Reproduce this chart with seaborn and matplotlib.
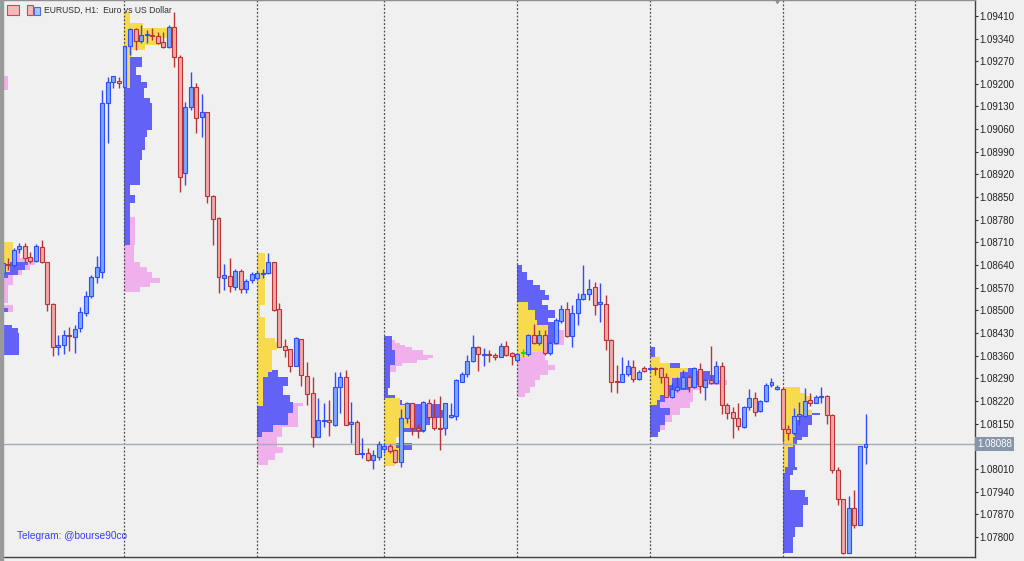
import numpy as np
import pandas as pd
import matplotlib
matplotlib.use("Agg")
import matplotlib.pyplot as plt
from matplotlib.patches import Rectangle
from matplotlib.ticker import FuncFormatter
import seaborn as sns

sns.set_style("white")
plt.rcParams['font.family'] = ['Liberation Sans', 'DejaVu Sans']

# EURUSD H1 candles, bar index -22 .. 134 (bar 0 = first visible day start)
bar_idx = list(range(-22, 135))
opens = [1.08615, 1.08643, 1.08640, 1.08690, 1.08699, 1.08665, 1.08653, 1.08696, 1.08649, 1.08520,
         1.08387, 1.08393, 1.08424, 1.08418, 1.08445, 1.08492, 1.08544, 1.08603, 1.08619, 1.09141,
         1.09206, 1.09209, 1.09190, 1.09317, 1.09369, 1.09332, 1.09351, 1.09351, 1.09348, 1.09329,
         1.09314, 1.09376, 1.09283, 1.08924, 1.09128, 1.09190, 1.09097, 1.09113, 1.08853, 1.08785,
         1.08600, 1.08606, 1.08572, 1.08622, 1.08566, 1.08594, 1.08600, 1.08612, 1.08615, 1.08649,
         1.08504, 1.08390, 1.08381, 1.08328, 1.08411, 1.08297, 1.08245, 1.08109, 1.08158, 1.08161,
         1.08146, 1.08263, 1.08294, 1.08149, 1.08155, 1.08056, 1.08059, 1.08038, 1.08047, 1.08072,
         1.08081, 1.08069, 1.08031, 1.08167, 1.08214, 1.08137, 1.08130, 1.08214, 1.08170, 1.08137,
         1.08137, 1.08170, 1.08174, 1.08279, 1.08303, 1.08344, 1.08387, 1.08362, 1.08365, 1.08362,
         1.08356, 1.08390, 1.08368, 1.08347, 1.08368, 1.08365, 1.08424, 1.08399, 1.08424, 1.08368,
         1.08399, 1.08467, 1.08504, 1.08421, 1.08492, 1.08535, 1.08551, 1.08572, 1.08520, 1.08520,
         1.08408, 1.08282, 1.08279, 1.08303, 1.08325, 1.08289, 1.08322, 1.08319, 1.08322, 1.08322,
         1.08294, 1.08232, 1.08254, 1.08260, 1.08294, 1.08263, 1.08319, 1.08263, 1.08285, 1.08276,
         1.08328, 1.08208, 1.08186, 1.08167, 1.08140, 1.08201, 1.08229, 1.08189, 1.08220, 1.08269,
         1.08257, 1.08257, 1.08133, 1.08121, 1.08174, 1.08174, 1.08223, 1.08214, 1.08232, 1.08235,
         1.08177, 1.08007, 1.07917, 1.07750, 1.07889, 1.07837, 1.08078]
highs = [1.08656, 1.08662, 1.08693, 1.08708, 1.08708, 1.08680, 1.08705, 1.08717, 1.08649, 1.08523,
         1.08424, 1.08439, 1.08449, 1.08455, 1.08510, 1.08560, 1.08609, 1.08668, 1.09181, 1.09221,
         1.09224, 1.09221, 1.09317, 1.09372, 1.09372, 1.09382, 1.09366, 1.09372, 1.09360, 1.09360,
         1.09382, 1.09422, 1.09289, 1.09144, 1.09237, 1.09203, 1.09169, 1.09113, 1.08856, 1.08788,
         1.08643, 1.08662, 1.08628, 1.08628, 1.08597, 1.08619, 1.08622, 1.08628, 1.08677, 1.08649,
         1.08523, 1.08411, 1.08381, 1.08418, 1.08411, 1.08340, 1.08294, 1.08229, 1.08214, 1.08223,
         1.08310, 1.08310, 1.08316, 1.08217, 1.08161, 1.08106, 1.08075, 1.08069, 1.08096, 1.08090,
         1.08087, 1.08072, 1.08195, 1.08217, 1.08214, 1.08149, 1.08220, 1.08226, 1.08226, 1.08235,
         1.08214, 1.08214, 1.08289, 1.08310, 1.08362, 1.08424, 1.08390, 1.08384, 1.08377, 1.08368,
         1.08399, 1.08405, 1.08371, 1.08368, 1.08381, 1.08427, 1.08458, 1.08439, 1.08439, 1.08405,
         1.08477, 1.08517, 1.08527, 1.08517, 1.08554, 1.08640, 1.08597, 1.08588, 1.08585, 1.08547,
         1.08411, 1.08331, 1.08356, 1.08347, 1.08347, 1.08316, 1.08328, 1.08328, 1.08325, 1.08325,
         1.08306, 1.08276, 1.08294, 1.08316, 1.08300, 1.08325, 1.08337, 1.08288, 1.08390, 1.08344,
         1.08340, 1.08214, 1.08201, 1.08214, 1.08204, 1.08257, 1.08248, 1.08223, 1.08276, 1.08291,
         1.08269, 1.08260, 1.08146, 1.08198, 1.08217, 1.08260, 1.08245, 1.08238, 1.08263, 1.08238,
         1.08180, 1.08016, 1.07917, 1.07926, 1.07945, 1.08081, 1.08180]
lows = [1.08606, 1.08625, 1.08634, 1.08677, 1.08649, 1.08646, 1.08649, 1.08646, 1.08498, 1.08359,
        1.08362, 1.08365, 1.08374, 1.08368, 1.08433, 1.08483, 1.08538, 1.08585, 1.08600, 1.09017,
        1.09187, 1.09187, 1.09187, 1.09289, 1.09304, 1.09326, 1.09326, 1.09335, 1.09323, 1.09311,
        1.09311, 1.09252, 1.08866, 1.08887, 1.09119, 1.09048, 1.09036, 1.08832, 1.08702, 1.08554,
        1.08563, 1.08557, 1.08563, 1.08554, 1.08554, 1.08585, 1.08594, 1.08600, 1.08612, 1.08498,
        1.08387, 1.08356, 1.08310, 1.08328, 1.08266, 1.08208, 1.08078, 1.08109, 1.08140, 1.08112,
        1.08143, 1.08183, 1.08146, 1.08090, 1.08056, 1.08044, 1.08034, 1.08010, 1.08038, 1.08059,
        1.08059, 1.08028, 1.08016, 1.08152, 1.08115, 1.08106, 1.08124, 1.08164, 1.08130, 1.08069,
        1.08115, 1.08167, 1.08161, 1.08279, 1.08294, 1.08340, 1.08313, 1.08328, 1.08340, 1.08347,
        1.08356, 1.08359, 1.08331, 1.08340, 1.08356, 1.08359, 1.08396, 1.08393, 1.08362, 1.08362,
        1.08396, 1.08461, 1.08418, 1.08387, 1.08455, 1.08532, 1.08532, 1.08486, 1.08464, 1.08377,
        1.08248, 1.08245, 1.08279, 1.08297, 1.08279, 1.08286, 1.08310, 1.08313, 1.08300, 1.08276,
        1.08232, 1.08229, 1.08248, 1.08257, 1.08248, 1.08260, 1.08245, 1.08223, 1.08272, 1.08272,
        1.08180, 1.08164, 1.08106, 1.08130, 1.08137, 1.08192, 1.08174, 1.08186, 1.08217, 1.08263,
        1.08254, 1.08093, 1.08099, 1.08115, 1.08146, 1.08170, 1.08204, 1.08214, 1.08214, 1.08149,
        1.07997, 1.07899, 1.07747, 1.07750, 1.07827, 1.07837, 1.08025]
closes = [1.08646, 1.08640, 1.08686, 1.08699, 1.08662, 1.08653, 1.08699, 1.08649, 1.08520, 1.08387,
          1.08393, 1.08424, 1.08421, 1.08442, 1.08495, 1.08544, 1.08603, 1.08634, 1.09141, 1.09206,
          1.09224, 1.09203, 1.09317, 1.09369, 1.09332, 1.09351, 1.09354, 1.09348, 1.09326, 1.09314,
          1.09376, 1.09283, 1.08912, 1.09128, 1.09190, 1.09094, 1.09113, 1.08853, 1.08782, 1.08603,
          1.08609, 1.08575, 1.08622, 1.08566, 1.08591, 1.08612, 1.08615, 1.08615, 1.08649, 1.08501,
          1.08387, 1.08377, 1.08328, 1.08415, 1.08300, 1.08242, 1.08109, 1.08161, 1.08161, 1.08155,
          1.08263, 1.08294, 1.08146, 1.08155, 1.08056, 1.08059, 1.08038, 1.08053, 1.08087, 1.08081,
          1.08065, 1.08031, 1.08167, 1.08214, 1.08137, 1.08130, 1.08217, 1.08170, 1.08137, 1.08133,
          1.08214, 1.08177, 1.08286, 1.08303, 1.08344, 1.08387, 1.08365, 1.08365, 1.08362, 1.08356,
          1.08390, 1.08362, 1.08359, 1.08365, 1.08368, 1.08424, 1.08399, 1.08424, 1.08368, 1.08399,
          1.08471, 1.08504, 1.08421, 1.08492, 1.08535, 1.08551, 1.08566, 1.08517, 1.08527, 1.08408,
          1.08279, 1.08279, 1.08303, 1.08328, 1.08289, 1.08310, 1.08313, 1.08322, 1.08319, 1.08294,
          1.08232, 1.08257, 1.08263, 1.08294, 1.08263, 1.08322, 1.08266, 1.08285, 1.08276, 1.08328,
          1.08208, 1.08183, 1.08167, 1.08143, 1.08201, 1.08229, 1.08186, 1.08220, 1.08269, 1.08279,
          1.08263, 1.08133, 1.08121, 1.08174, 1.08180, 1.08220, 1.08214, 1.08232, 1.08235, 1.08177,
          1.08007, 1.07917, 1.07750, 1.07889, 1.07837, 1.08081, 1.08088]

bid_price = 1.08088
day_starts = [0, 24, 47, 71, 95, 119, 143]
price_ticks = np.arange(1.07800, 1.09411, 0.0007)

# daily volume profiles: (price_high, price_low, length in bars), keyed by the day's first bar
pink_profile = {
    -24: [(1.09224, 1.09181, 2.9), (1.08708, 1.08686, 2.9), (1.08686, 1.08662, 5.1), (1.08662, 1.08640, 7.8),
          (1.08640, 1.08625, 6.9), (1.08625, 1.08609, 5.5), (1.08609, 1.08578, 3.8), (1.08578, 1.08523, 2.9),
          (1.08517, 1.08495, 3.8)],
    0: [(1.08789, 1.08702, 1.9), (1.08702, 1.08649, 1.7), (1.08649, 1.08634, 2.8), (1.08634, 1.08619, 4.1),
        (1.08619, 1.08600, 5.0), (1.08600, 1.08585, 6.4), (1.08585, 1.08572, 4.6), (1.08572, 1.08557, 2.8)],
    24: [(1.08214, 1.08204, 8.3), (1.08204, 1.08140, 7.4), (1.08140, 1.08109, 4.5), (1.08109, 1.08078, 3.6),
         (1.08078, 1.08059, 4.7), (1.08059, 1.08038, 3.2), (1.08038, 1.08022, 2.0)],
    47: [(1.08408, 1.08399, 1.9), (1.08399, 1.08393, 2.8), (1.08393, 1.08387, 3.7), (1.08387, 1.08377, 5.0),
         (1.08377, 1.08362, 7.0), (1.08362, 1.08353, 8.8), (1.08353, 1.08347, 7.9), (1.08347, 1.08337, 5.9),
         (1.08337, 1.08328, 3.2), (1.08328, 1.08310, 2.1)],
    71: [(1.08439, 1.08393, 8.5), (1.08393, 1.08362, 5.0), (1.08362, 1.08347, 5.0), (1.08347, 1.08331, 5.6),
         (1.08331, 1.08316, 6.85), (1.08316, 1.08300, 5.6), (1.08300, 1.08285, 4.1), (1.08285, 1.08263, 3.2),
         (1.08263, 1.08245, 2.3), (1.08245, 1.08232, 1.4)],
    95: [(1.08285, 1.08269, 14.0), (1.08269, 1.08254, 9.1), (1.08254, 1.08235, 7.8), (1.08235, 1.08217, 7.8),
         (1.08217, 1.08198, 7.3), (1.08198, 1.08177, 5.45), (1.08177, 1.08155, 4.0), (1.08155, 1.08130, 2.7)],
}
blue_profile = {
    -24: [(1.08649, 1.08640, 6.5), (1.08640, 1.08625, 6.0), (1.08625, 1.08609, 4.7), (1.08609, 1.08600, 2.9),
          (1.08507, 1.08495, 2.9), (1.08455, 1.08446, 3.6), (1.08446, 1.08430, 4.7), (1.08430, 1.08362, 4.9)],
    0: [(1.09283, 1.09252, 3.2), (1.09252, 1.09227, 2.1), (1.09227, 1.09206, 3.0), (1.09206, 1.09187, 4.1),
        (1.09187, 1.09156, 3.5), (1.09156, 1.09141, 4.6), (1.09141, 1.09057, 5.0), (1.09057, 1.09036, 4.1),
        (1.09036, 1.08996, 3.7), (1.08996, 1.08965, 3.2), (1.08965, 1.08887, 2.8), (1.08887, 1.08857, 1.0),
        (1.08857, 1.08832, 1.9), (1.08832, 1.08702, 1.0)],
    24: [(1.08316, 1.08294, 3.8), (1.08294, 1.08266, 5.6), (1.08266, 1.08238, 4.7), (1.08238, 1.08217, 5.9),
         (1.08217, 1.08183, 6.5), (1.08183, 1.08146, 5.6), (1.08146, 1.08124, 2.9), (1.08124, 1.08109, 0.9)],
    47: [(1.08421, 1.08377, 1.4), (1.08377, 1.08331, 1.9), (1.08331, 1.08260, 1.0), (1.08260, 1.08238, 0.65),
         (1.08238, 1.08223, 1.9), (1.08223, 1.08211, 3.2), (1.08211, 1.08192, 10.1), (1.08192, 1.08167, 11.3),
         (1.08167, 1.08146, 8.2), (1.08146, 1.08124, 7.3), (1.08124, 1.08090, 1.9), (1.08090, 1.08069, 5.0)],
    71: [(1.08640, 1.08619, 0.9), (1.08619, 1.08594, 1.8), (1.08594, 1.08578, 2.9), (1.08578, 1.08563, 4.1),
         (1.08563, 1.08547, 5.0), (1.08547, 1.08532, 5.8), (1.08532, 1.08517, 4.5), (1.08517, 1.08501, 5.6),
         (1.08501, 1.08476, 6.85), (1.08476, 1.08464, 5.6), (1.08464, 1.08452, 6.85), (1.08452, 1.08439, 7.3),
         (1.08439, 1.08399, 7.3), (1.08399, 1.08384, 6.3)],
    95: [(1.08387, 1.08356, 0.93), (1.08356, 1.08337, 1.8), (1.08337, 1.08322, 5.45), (1.08322, 1.08313, 7.8),
         (1.08313, 1.08300, 10.9), (1.08300, 1.08285, 11.8), (1.08285, 1.08269, 10.0), (1.08269, 1.08254, 7.3),
         (1.08254, 1.08235, 4.0), (1.08235, 1.08217, 2.7), (1.08217, 1.08198, 1.8), (1.08198, 1.08177, 3.6),
         (1.08177, 1.08146, 2.7), (1.08146, 1.08124, 1.8), (1.08124, 1.08109, 1.5)],
    119: [(1.08183, 1.08177, 6.8), (1.08177, 1.08146, 5.3), (1.08146, 1.08109, 4.6), (1.08109, 1.08099, 3.5),
          (1.08099, 1.08084, 2.6), (1.08084, 1.08075, 2.24), (1.08075, 1.08016, 2.24), (1.08016, 1.08007, 2.6),
          (1.08007, 1.07991, 1.9), (1.07991, 1.07945, 1.34), (1.07945, 1.07923, 4.05), (1.07923, 1.07899, 4.6),
          (1.07899, 1.07831, 3.7), (1.07831, 1.07800, 2.24), (1.07800, 1.07750, 1.9)],
}
yellow_profile = {
    -24: [(1.08711, 1.08649, 3.8), (1.08649, 1.08619, 3.3)],
    0: [(1.09422, 1.09388, 1.0), (1.09388, 1.09372, 3.3), (1.09372, 1.09357, 7.7), (1.09357, 1.09342, 8.2),
        (1.09342, 1.09320, 6.8), (1.09320, 1.09305, 3.7), (1.09305, 1.09283, 1.4), (1.09283, 1.09187, 1.0)],
    24: [(1.08677, 1.08517, 1.4), (1.08619, 1.08612, 3.6), (1.08517, 1.08479, 0.5), (1.08479, 1.08415, 1.4),
         (1.08415, 1.08402, 3.2), (1.08402, 1.08377, 3.6), (1.08377, 1.08310, 2.7), (1.08310, 1.08294, 1.9),
         (1.08294, 1.08204, 1.0)],
    47: [(1.08229, 1.08208, 2.8), (1.08208, 1.08167, 3.7), (1.08167, 1.08137, 4.6), (1.08137, 1.08109, 2.8),
         (1.08109, 1.08075, 2.1), (1.08075, 1.08038, 2.8), (1.08038, 1.08019, 1.9)],
    71: [(1.08526, 1.08501, 2.0), (1.08501, 1.08470, 3.2), (1.08470, 1.08455, 3.6), (1.08455, 1.08393, 5.6),
         (1.08393, 1.08371, 5.0), (1.08371, 1.08353, 2.3)],
    95: [(1.08356, 1.08337, 1.8), (1.08337, 1.08322, 3.6), (1.08322, 1.08310, 6.9), (1.08310, 1.08291, 5.45),
         (1.08291, 1.08269, 4.0), (1.08269, 1.08238, 2.7), (1.08238, 1.08223, 1.8), (1.08223, 1.08208, 1.3)],
    119: [(1.08263, 1.08245, 3.15), (1.08245, 1.08235, 4.05), (1.08235, 1.08214, 5.3), (1.08214, 1.08192, 4.6),
          (1.08192, 1.08177, 5.3), (1.08177, 1.08161, 3.15), (1.08161, 1.08140, 2.4), (1.08140, 1.08109, 2.24),
          (1.08109, 1.08078, 1.9), (1.08078, 1.08016, 1.0), (1.08016, 1.07997, 0.43)],
}

bg = '#f0f0f0'
fig = plt.figure(figsize=(10.24, 5.61), dpi=100, facecolor=bg)
ax = fig.add_axes([4 / 1024, 4 / 561, 971 / 1024, 557 / 561])
ax.set_facecolor(bg)

# volume profiles (pink under blue under yellow)
for profile, col in [(pink_profile, '#efb0ec'), (blue_profile, '#6262f6'), (yellow_profile, '#f8da4e')]:
    rows = [(start, hi, lo, w) for start, blocks in profile.items() for hi, lo, w in blocks]
    df = pd.DataFrame(rows, columns=['start', 'hi', 'lo', 'w'])
    ax.barh((df['hi'] + df['lo']) / 2, df['w'], height=df['hi'] - df['lo'], left=df['start'],
            color=col, linewidth=0, zorder=1)

# day separators
for s in day_starts:
    ax.axvline(s, color='#4a4a4a', lw=0.9, ls=(0, (1.5, 1.5)), zorder=2)

# bid line
ax.axhline(bid_price, color='#a6acb6', lw=1, zorder=2.5)

# candles
o = np.array(opens)
c = np.array(closes)
up = c > o
down = c < o
wick_col = np.where(up, '#2f4cff', np.where(down, '#b83434', '#1ed81e'))
fill_col = np.where(up, '#7aa8ff', np.where(down, '#f2a6a6', '#1ed81e'))
ax.vlines(bar_idx, lows, highs, colors=wick_col, lw=1, zorder=3)
body_lo = np.minimum(o, c)
body_h = np.maximum(np.abs(c - o), 3e-5)
ax.bar(bar_idx, body_h, bottom=body_lo, width=0.72, color=fill_col, edgecolor=wick_col,
       linewidth=0.8, zorder=4)

ax.set_xlim(-21.79, 153.8)
ax.set_ylim(1.07738, 1.09459)

ax.set_xticks([])
ax.yaxis.tick_right()
ax.set_yticks(price_ticks)


def price_fmt(v, pos):
    # the tick hidden under the current price box gets no label
    if abs(v - bid_price) < 0.0002:
        return ''
    return f'{v:.5f}'


ax.yaxis.set_major_formatter(FuncFormatter(price_fmt))
ax.tick_params(axis='y', direction='out', length=2.5, width=0.8, color='#303030',
               labelsize=7, labelcolor='#222222', pad=0.8)

ax.spines['left'].set_visible(False)
ax.spines['top'].set_color('#909090')
ax.spines['right'].set_color('#404040')
ax.spines['bottom'].set_color('#404040')
for sp in ax.spines.values():
    sp.set_linewidth(1)

# current price label
ax.text(1.002, bid_price, f'{bid_price:.5f}', transform=ax.get_yaxis_transform(), ha='left',
        va='center', fontsize=7, color='white', zorder=6,
        bbox=dict(boxstyle='square,pad=0.2', fc='#8795ab', ec='none'))

# chart shift marker
ax.plot([118], [1.09459], marker='v', color='#8a8a8a', ms=4, clip_on=False, zorder=6)

# window border, header icons and texts
fig.add_artist(Rectangle((0, 0), 3 / 1024, 1, transform=fig.transFigure, color='#9a9a9a'))
fig.add_artist(Rectangle((7 / 1024, 1 - 15 / 561), 12 / 1024, 10 / 561, transform=fig.transFigure,
                         fc='#f6b8b8', ec='#d04848', lw=0.8))
fig.add_artist(Rectangle((27 / 1024, 1 - 15 / 561), 6 / 1024, 10 / 561, transform=fig.transFigure,
                         fc='#f6b8b8', ec='#d04848', lw=0.8))
fig.add_artist(Rectangle((34 / 1024, 1 - 15 / 561), 6 / 1024, 8 / 561, transform=fig.transFigure,
                         fc='#a8c4f4', ec='#4a6fd0', lw=0.8))
fig.text(44 / 1024, 1 - 10 / 561, 'EURUSD, H1:  Euro vs US Dollar', fontsize=6.2,
         color='#303030', va='center')
fig.text(17 / 1024, 1 - 536 / 561, 'Telegram: @bourse90co', fontsize=7.3,
         color='#3c3cff', va='center')

fig.savefig('out.png', dpi=100, facecolor=bg)
